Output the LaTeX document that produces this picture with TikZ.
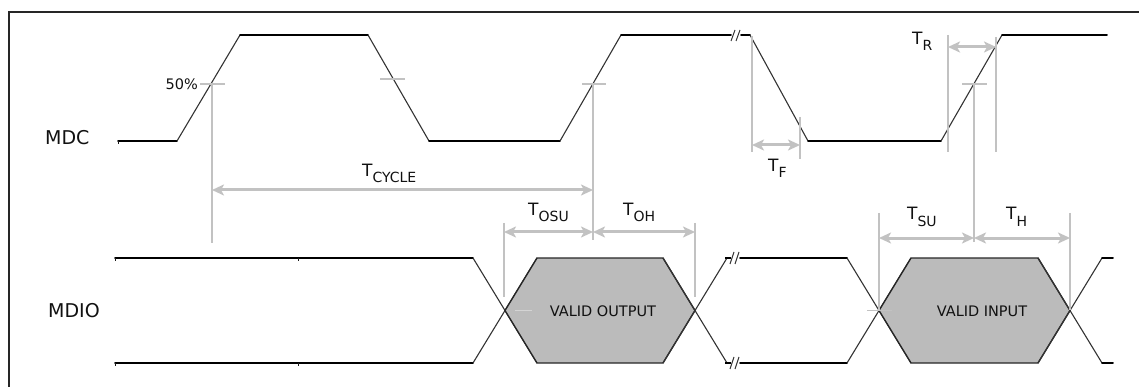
\documentclass[tikz,border=0pt]{standalone}
\usepackage{fontspec}
\setmainfont{DejaVu Sans}
\usetikzlibrary{arrows.meta}
\definecolor{dimg}{HTML}{C2C2C2}
\definecolor{hexfill}{HTML}{BBBBBB}
\definecolor{txt}{HTML}{111111}
\newcommand{\tlab}[1]{{\fontsize{17}{17}\selectfont T}\raisebox{-6pt}{\fontsize{14}{14}\selectfont #1}}
\begin{document}
\begin{tikzpicture}[x=1pt,y=-1pt,
  sig/.style={line width=1.9pt,black,line cap=round},
  edgeline/.style={line width=1.1pt,black!80},
  hexbox/.style={draw=black!85,line width=1.4pt,fill=hexfill,line join=miter},
  brk/.style={line width=1pt,black!80},
  dimthin/.style={draw=dimg,line width=1.6pt},
  dimthick/.style={draw=dimg,line width=2.6pt},
  dimarrow/.style={draw=dimg,line width=3pt,{Stealth[length=12pt,width=11pt,inset=3pt]}-{Stealth[length=12pt,width=11pt,inset=3pt]}},
  lab/.style={inner sep=0pt,text=txt},
  sigl/.style={inner sep=0pt,text=txt,font=\fontsize{19}{19}\selectfont},
  hexl/.style={inner sep=0pt,text=txt,font=\fontsize{14.5}{14.5}\selectfont}
]
\useasboundingbox (0,0) rectangle (1139,387);
% frame
\draw[line width=1.5pt,black!85] (9,387) -- (9,12) -- (1139,12);

% ---------------- MDC ----------------
\coordinate (c0) at (118,141);
\coordinate (c1) at (177,141);
\coordinate (c2) at (240,35);
\coordinate (c3) at (368,35);
\coordinate (c4) at (429,141);
\coordinate (c5) at (560,141);
\coordinate (c6) at (621,35);
\coordinate (c7) at (731,35);
\coordinate (c8) at (741,35);
\coordinate (c9) at (750,35);
\coordinate (c10) at (808,141);
\coordinate (c11) at (941,141);
\coordinate (c12) at (1002,35);
\coordinate (c13) at (1107,35);
\draw[sig] (c0) -- (c1);
\draw[edgeline] (c1) -- (c2);
\draw[sig] (c2) -- (c3);
\draw[edgeline] (c3) -- (c4);
\draw[sig] (c4) -- (c5);
\draw[edgeline] (c5) -- (c6);
\draw[sig] (c6) -- (c7);
\draw[brk] (731,41) -- (735,30);
\draw[brk] (736,41) -- (740,30);
\draw[sig] (c8) -- (c9);
\draw[edgeline] (c9) -- (c10);
\draw[sig] (c10) -- (c11);
\draw[edgeline] (c11) -- (c12);
\draw[sig] (c12) -- (c13);
\draw[line width=1pt,black!90] (118,141) -- (118,144);

% 50% ticks
\draw[dimthin] (200,84) -- (225,84);
\draw[dimthin] (380,79) -- (405,79);
\draw[dimthick] (582,84) -- (606,84);
\draw[dimthick] (962,84) -- (987,84);

% reference verticals
\draw[dimthin] (212,84) -- (212,243);
\draw[dimthin] (593,84) -- (593,240);
\draw[dimthick] (974,84) -- (974,242);

% T_CYCLE
\coordinate (cyL) at (212,190);
\coordinate (cyR) at (593,190);
\draw[dimarrow] (cyL) -- (cyR);
\node[lab,anchor=base west] (tcyc) at (362,177) {\tlab{CYCLE}};

% T_F
\draw[dimthick] (752,36) -- (752,152);
\draw[dimthick] (800,117) -- (800,159);
\coordinate (tfL) at (752,145);
\coordinate (tfR) at (800,145);
\draw[dimarrow] (tfL) -- (tfR);
\node[lab,anchor=base west] (tf) at (768,172) {\tlab{F}};

% T_R
\draw[dimthick] (948,35) -- (948,152);
\draw[dimthick] (996,37) -- (996,152);
\coordinate (trL) at (948,47);
\coordinate (trR) at (996,47);
\draw[dimarrow] (trL) -- (trR);
\node[lab,anchor=base west] (tr) at (912,45) {\tlab{R}};

% 50% label
\node[lab,anchor=base east,font=\fontsize{14.5}{14.5}\selectfont] (pct) at (198,90) {50\%};

% signal labels
\node[sigl,anchor=base west] (mdc) at (45,145) {MDC};
\node[sigl,anchor=base west] (mdio) at (48,317) {MDIO};

% ---------------- MDIO ----------------
\draw[sig] (115,258) -- (473,258);
\draw[sig] (115,363) -- (473,363);
\draw[line width=1pt,black!90] (115,258) -- (115,261) (115,363) -- (115,366);
\draw[line width=1pt,black!90] (298,258) -- (298,261) (298,363) -- (298,366);
% first crossing
\draw[edgeline] (473,258) -- (537,363);
\draw[edgeline] (473,363) -- (537,258);
% hex 1
\draw[hexbox] (505,310.5) -- (537,258) -- (663,258) -- (695,310.5) -- (663,363) -- (537,363) -- cycle;
\node[hexl] (vout) at (603,311) {VALID OUTPUT};
\draw[draw=dimg!70,line width=0.8pt] (515,310.5) -- (532,310.5);
% second crossing
\draw[edgeline] (663,258) -- (727,363);
\draw[edgeline] (663,363) -- (727,258);
\draw[line width=2.2pt,black] (725,258) -- (731,258);
\draw[line width=2.2pt,black] (725,363) -- (731,363);
\draw[brk] (730,264) -- (734,252);
\draw[brk] (735,264) -- (739,252);
\draw[brk] (730,369) -- (734,357);
\draw[brk] (735,369) -- (739,357);
\draw[sig] (740,258) -- (847,258);
\draw[sig] (740,363) -- (847,363);
% third crossing
\draw[edgeline] (847,258) -- (911,363);
\draw[edgeline] (847,363) -- (911,258);
% hex 2
\draw[hexbox] (879,310.5) -- (911,258) -- (1038,258) -- (1070,310.5) -- (1038,363) -- (911,363) -- cycle;
\node[hexl] (vin) at (982,311) {VALID INPUT};
\draw[draw=dimg,line width=0.8pt] (867,310.5) -- (892,310.5);
% fourth crossing
\draw[edgeline] (1038,258) -- (1102,363);
\draw[edgeline] (1038,363) -- (1102,258);
\draw[sig] (1102,258) -- (1113,258);
\draw[sig] (1102,363) -- (1113,363);

% T_OSU / T_OH
\draw[dimthin] (504,223) -- (504,297);
\draw[dimthin] (695,223) -- (695,297);
\coordinate (osL) at (504,232);
\coordinate (osM) at (593,232);
\coordinate (osR) at (695,232);
\draw[dimarrow] (osL) -- (osM);
\draw[dimarrow] (osM) -- (osR);
\node[lab,anchor=base west] (tosu) at (528,215) {\tlab{OSU}};
\node[lab,anchor=base west] (toh) at (623,215) {\tlab{OH}};

% T_SU / T_H
\draw[dimthin] (879,213) -- (879,310);
\draw[dimthin] (1070,213) -- (1070,310);
\coordinate (suL) at (879,238);
\coordinate (suM) at (974,238);
\coordinate (suR) at (1070,238);
\draw[dimarrow] (suL) -- (suM);
\draw[dimarrow] (suM) -- (suR);
\node[lab,anchor=base west] (tsu) at (907,220) {\tlab{SU}};
\node[lab,anchor=base west] (th) at (1006,220) {\tlab{H}};
\end{tikzpicture}
\end{document}
